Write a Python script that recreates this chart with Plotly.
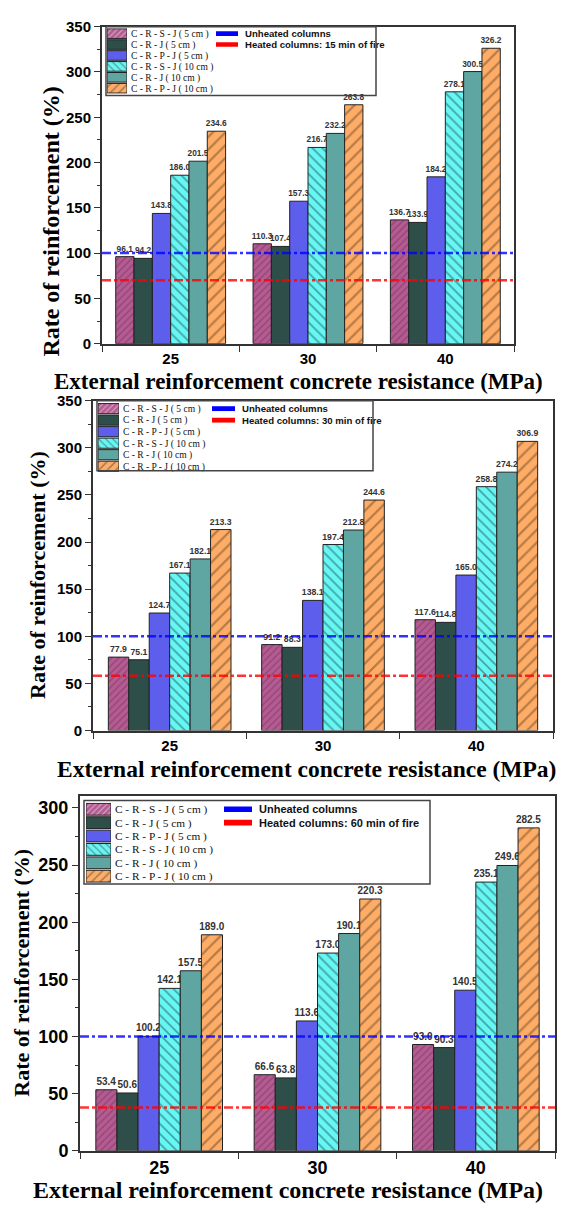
import plotly.graph_objects as go

categories = ["25", "30", "40"]
series_names = [
    "C - R - S - J ( 5 cm )",
    "C - R - J ( 5 cm )",
    "C - R - P - J ( 5 cm )",
    "C - R - S - J ( 10 cm )",
    "C - R - J ( 10 cm )",
    "C - R - P - J ( 10 cm )",
]

# values per series (rows) across categories 25, 30, 40
values_15min = [
    [96.1, 110.3, 136.7],
    [94.2, 107.4, 133.9],
    [143.8, 157.3, 184.2],
    [186.0, 216.7, 278.1],
    [201.5, 232.2, 300.5],
    [234.6, 263.8, 326.2],
]
values_30min = [
    [77.9, 91.2, 117.6],
    [75.1, 88.3, 114.8],
    [124.7, 138.1, 165.0],
    [167.1, 197.4, 258.8],
    [182.1, 212.8, 274.2],
    [213.3, 244.6, 306.9],
]
values_60min = [
    [53.4, 66.6, 93.0],
    [50.6, 63.8, 90.3],
    [100.2, 113.6, 140.5],
    [142.1, 173.0, 235.1],
    [157.5, 190.1, 249.6],
    [189.0, 220.3, 282.5],
]
unheated_level = [100, 100, 100]
heated_level = [70, 58, 38]
heated_labels = [
    "Heated columns: 15 min of fire",
    "Heated columns: 30 min of fire",
    "Heated columns: 60 min of fire",
]
unheated_label = "Unheated columns"
y_max = [350, 350, 310]
swatch_len = [1, 1, 1, 1, 1, 1]
line_swatch_len = [1, 1]

# styles
fill_colors = ["#B45C92", "#2E4E4A", "#5E5EEC", "#66F7F5", "#5FA6A2", "#FFAD66"]
pattern_shapes = ["/", "", "", "\\", "", "/"]
pattern_fg = ["#6E2A55", "#2E4E4A", "#5E5EEC", "#1F5050", "#5FA6A2", "#6B4A2A"]
pattern_size = [5, 5, 5, 7, 5, 9]

W, H = 562, 1212
# pixel boxes (left, right, top, bottom)
boxes = [(102, 514, 18, 340), (93, 553, 398, 733), (80, 555, 800, 1160)]
tick_sizes = [15, 15, 18]
label_sizes = [8.4, 8.7, 10]
ytitle_sizes = [24, 22, 22]
xtitle_sizes = [23, 23.5, 24]
ytitle_pos = [(51, 216), (38, 575), (22, 979)]
xtitle_pos = [(298, 378), (306, 772), (288, 1200)]
# legend geometry: swatch x0, x1, first row center, row spacing, line swatch x0, x1,
# box (left, right, top, bottom), fonts
leg_geo = [
    dict(sx=(107, 127), r0=25, dr=11.1, lx=(216, 238), box=(106, 376, 18, 88), f=9.5, lf=9.6),
    dict(sx=(98, 119), r0=406, dr=11.7, lx=(212, 235), box=(97, 373, 398, 469), f=9.5, lf=9.6),
    dict(sx=(86, 111), r0=813, dr=13.6, lx=(224, 252), box=(84, 430, 804, 889), f=11.3, lf=11),
]

fig = go.Figure()
all_values = [values_15min, values_30min, values_60min]
annotations = []
shapes = []

for p in range(3):
    ax = "" if p == 0 else str(p + 1)
    xa, ya = "x" + ax, "y" + ax
    for s in range(6):
        fig.add_trace(go.Bar(
            x=categories, y=all_values[p][s], name=series_names[s],
            xaxis=xa, yaxis=ya, showlegend=False,
            marker=dict(
                color=fill_colors[s],
                line=dict(color="#222222", width=1),
                pattern=dict(shape=pattern_shapes[s], fgcolor=pattern_fg[s],
                             bgcolor=fill_colors[s], size=pattern_size[s],
                             solidity=0.25, fillmode="overlay"),
            ),
            text=[f"{v:.1f}" for v in all_values[p][s]],
            textposition="outside", constraintext="none", cliponaxis=False,
            textfont=dict(family="Liberation Sans", size=label_sizes[p],
                          color="#333333", weight="bold"),
        ))
    for lvl, col in ((unheated_level[p], "rgba(0,0,255,0.8)"),
                     (heated_level[p], "rgba(255,0,0,0.8)")):
        shapes.append(dict(type="line", xref=xa + " domain", yref=ya,
                           x0=0, x1=1, y0=lvl, y1=lvl, layer="above",
                           line=dict(color=col, width=2.5, dash="dashdot")))

    l, r, t, b = boxes[p]
    tickfont = dict(family="Liberation Sans", size=tick_sizes[p], color="black", weight="bold")
    fig.layout["xaxis" + ax] = dict(
        domain=[l / W, r / W], anchor=ya, type="category",
        showline=True, linecolor="#333333", linewidth=2, mirror=True,
        ticks="outside", tickson="boundaries", ticklen=6, tickcolor="#333333",
        tickfont=tickfont, showgrid=False, zeroline=False, fixedrange=True,
    )
    fig.layout["yaxis" + ax] = dict(
        domain=[1 - b / H, 1 - t / H], anchor=xa, range=[0, y_max[p]],
        dtick=50, showline=True, linecolor="#333333", linewidth=2, mirror=True,
        ticks="outside", ticklen=6, tickcolor="#333333",
        minor=dict(dtick=25, ticks="outside", ticklen=3, tickcolor="#333333"),
        tickfont=tickfont, showgrid=False, zeroline=False, fixedrange=True,
    )

    # ---- custom legend (swatches as bars on small inset axes) ----
    g = leg_geo[p]
    top = g["r0"] - g["dr"] / 2
    bot_bars = top + 6 * g["dr"]
    bot_lines = top + 2 * g["dr"]
    ib = str(4 + p)   # bar-legend inset axes
    il = str(7 + p)   # line-legend inset axes
    line_names = [unheated_label, heated_labels[p]]
    fig.add_trace(go.Bar(
        x=swatch_len, y=series_names, orientation="h", width=0.88,
        xaxis="x" + ib, yaxis="y" + ib, showlegend=False, hoverinfo="skip",
        marker=dict(
            color=fill_colors, line=dict(color="#222222", width=1),
            pattern=dict(shape=pattern_shapes, fgcolor=pattern_fg, bgcolor=fill_colors,
                         size=[4, 4, 4, 5, 4, 6], solidity=0.25, fillmode="overlay"),
        ),
    ))
    fig.add_trace(go.Bar(
        x=line_swatch_len, y=line_names, orientation="h", width=0.42,
        xaxis="x" + il, yaxis="y" + il, showlegend=False, hoverinfo="skip",
        marker=dict(color=["#0000FF", "#FF0000"], line=dict(width=0)),
    ))
    for idx, sx, ybot, fsize, fam, wgt, names, gap in (
        (ib, g["sx"], bot_bars, g["f"], "Liberation Serif", "normal", series_names, 3),
        (il, g["lx"], bot_lines, g["lf"], "Liberation Sans", "bold", line_names, 6),
    ):
        n = len(names)
        fig.layout["xaxis" + idx] = dict(
            domain=[sx[0] / W, sx[1] / W], anchor="y" + idx, range=[0, 1],
            visible=False, fixedrange=True,
        )
        fig.layout["yaxis" + idx] = dict(
            domain=[1 - ybot / H, 1 - top / H], anchor="x" + idx, type="category",
            range=[n - 0.5, -0.5], side="right", showline=False, ticks="",
            tickmode="array", tickvals=names, ticktext=names,
            showgrid=False, zeroline=False, ticklabelstandoff=gap, fixedrange=True,
            tickfont=dict(family=fam, size=fsize, color="#111111", weight=wgt),
        )
    bl, br, bt, bb = g["box"]
    shapes.append(dict(type="rect", xref="paper", yref="paper",
                       x0=bl / W, x1=br / W, y0=1 - bb / H, y1=1 - bt / H,
                       layer="above", line=dict(color="#444444", width=1.5),
                       fillcolor="rgba(0,0,0,0)"))

    yx, yy = ytitle_pos[p]
    annotations.append(dict(
        text="Rate of reinforcement (%)", xref="paper", yref="paper",
        x=yx / W, y=1 - yy / H, textangle=-90, showarrow=False,
        xanchor="center", yanchor="middle",
        font=dict(family="Liberation Serif", size=ytitle_sizes[p], color="black", weight="bold"),
    ))
    xx, xy = xtitle_pos[p]
    annotations.append(dict(
        text="External reinforcement concrete resistance (MPa)", xref="paper", yref="paper",
        x=xx / W, y=1 - xy / H, showarrow=False,
        xanchor="center", yanchor="middle",
        font=dict(family="Liberation Serif", size=xtitle_sizes[p], color="black", weight="bold"),
    ))

fig.update_layout(
    width=W, height=H, margin=dict(l=0, r=0, t=0, b=0),
    paper_bgcolor="white", plot_bgcolor="white",
    barmode="group", bargap=0.2, bargroupgap=0,
    annotations=annotations, shapes=shapes, showlegend=False,
)
fig.write_html("out.html")
